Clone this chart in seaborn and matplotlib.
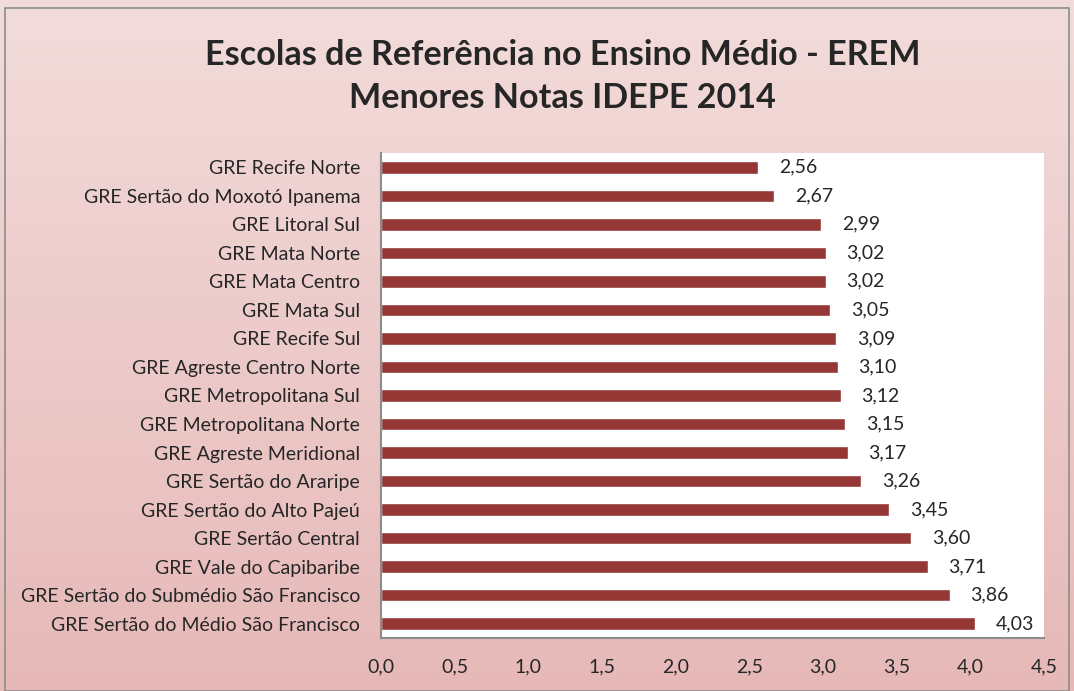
import numpy as np
import pandas as pd
import matplotlib.pyplot as plt
import seaborn as sns
from matplotlib.patches import Rectangle
from matplotlib.ticker import FuncFormatter, FixedLocator

regionais = [
    'GRE Recife Norte',
    'GRE Sertão do Moxotó Ipanema',
    'GRE Litoral Sul',
    'GRE Mata Norte',
    'GRE Mata Centro',
    'GRE Mata Sul',
    'GRE Recife Sul',
    'GRE Agreste Centro Norte',
    'GRE Metropolitana Sul',
    'GRE Metropolitana Norte',
    'GRE Agreste Meridional',
    'GRE Sertão do Araripe',
    'GRE Sertão do Alto Pajeú',
    'GRE Sertão Central',
    'GRE Vale do Capibaribe',
    'GRE Sertão do Submédio São Francisco',
    'GRE Sertão do Médio São Francisco',
]
notas = [2.56, 2.67, 2.99, 3.02, 3.02, 3.05, 3.09, 3.10, 3.12, 3.15,
         3.17, 3.26, 3.45, 3.60, 3.71, 3.86, 4.03]
xticks = [0.0, 0.5, 1.0, 1.5, 2.0, 2.5, 3.0, 3.5, 4.0, 4.5]

df = pd.DataFrame({'regional': regionais, 'nota': notas})

sns.set_style('white')
plt.rcParams['font.family'] = ['Lato', 'DejaVu Sans']

fig = plt.figure(figsize=(10.74, 6.91), dpi=100)

# gradient background
bg = fig.add_axes([0, 0, 1, 1], zorder=-10)
grad = np.linspace(0, 1, 256).reshape(-1, 1)
top = np.array([0xf2, 0xdc, 0xdb]) / 255
bot = np.array([0xe6, 0xb9, 0xb8]) / 255
img = top + (bot - top) * grad[:, :, None]
bg.imshow(img, aspect='auto', extent=[0, 1, 0, 1])
bg.set_axis_off()
fig.patches.append(Rectangle((0.005, 0.0), 0.99, 0.988, transform=fig.transFigure,
                             fill=False, edgecolor='#8c8c8c', linewidth=1.2))

ax = fig.add_axes([0.3547, 0.0767, 0.6173, 0.7019])
ax.set_facecolor('white')
sns.barplot(data=df, y='regional', x='nota', orient='h', color='#953735',
            width=0.44, saturation=1, ax=ax)

for p, v in zip(ax.patches, notas):
    ax.text(p.get_width() + 0.14, p.get_y() + p.get_height() / 2,
            f'{v:.2f}'.replace('.', ','), va='center', ha='left', fontsize=14)

ax.set_xlim(0, 4.5)
ax.set_ylim(len(regionais) - 0.5, -0.5)
ax.set_xticks(xticks)
ax.xaxis.set_major_formatter(FuncFormatter(lambda x, _: f'{x:.1f}'.replace('.', ',')))
ax.yaxis.set_minor_locator(FixedLocator(np.arange(-0.5, len(regionais), 1)))
ax.tick_params(axis='y', which='major', length=0, labelsize=14, pad=15)
ax.tick_params(axis='y', which='minor', length=6, width=1.2, color='#8c8c8c', direction='out')
ax.tick_params(axis='x', length=6, width=1.2, color='#8c8c8c', direction='out',
               labelsize=14, pad=9)
ax.set_xlabel('')
ax.set_ylabel('')
for s in ['top', 'right']:
    ax.spines[s].set_visible(False)
for s in ['left', 'bottom']:
    ax.spines[s].set_color('#8c8c8c')
    ax.spines[s].set_linewidth(1.5)

fig.text(0.524, 0.889, 'Escolas de Referência no Ensino Médio - EREM\nMenores Notas IDEPE 2014',
         ha='center', va='center', fontsize=24.6, fontweight='bold', linespacing=1.43)

fig.savefig('out.png', dpi=100)
